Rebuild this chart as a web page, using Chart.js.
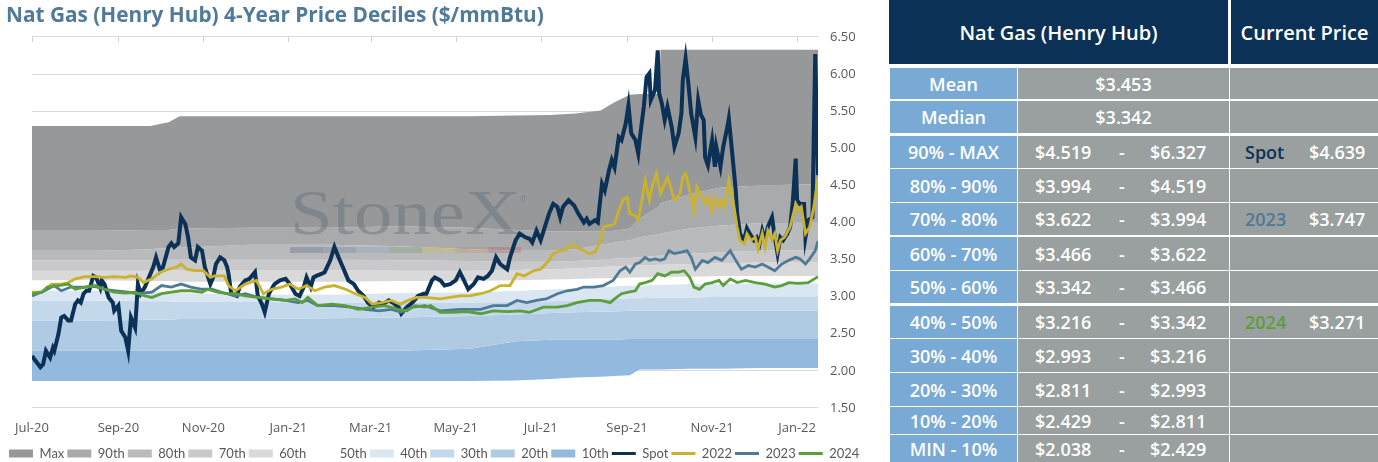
<!DOCTYPE html>
<html>
<head>
<meta charset="utf-8">
<script src="https://cdn.jsdelivr.net/npm/chart.js@4.4.1/dist/chart.umd.min.js"></script>
<style>
  body { margin: 0; background: #fff; width: 1378px; height: 462px; overflow: hidden; position: relative; }
  #wrap { position: absolute; left: 0; top: 0; width: 880px; height: 462px; }
  .c { position: absolute; display: flex; align-items: center; justify-content: center;
       color: #fff; font-family: "Open Sans", Lato, sans-serif; font-weight: 600; font-size: 18px; white-space: nowrap; }
  .c span { position: absolute; }
</style>
</head>
<body>
<div id="wrap"><canvas id="chart"></canvas></div>
<div id="tbl"></div>
<script>
// x axis: days since 1 Jul 2020
const xTickDays = [0, 62, 123, 184, 243, 304, 365, 427, 488, 549];
const xTickLabels = ['Jul-20', 'Sep-20', 'Nov-20', 'Jan-21', 'Mar-21', 'May-21', 'Jul-21', 'Sep-21', 'Nov-21', 'Jan-22'];

// rolling 4-year deciles
const bandDays = [0, 49, 85, 90, 98, 106, 156, 214, 264, 314, 347, 372, 390, 408, 418, 429, 436, 450, 451, 472, 494, 522, 564];
const pMax = [5.30, 5.30, 5.30, 5.32, 5.35, 5.43, 5.43, 5.43, 5.43, 5.43, 5.44, 5.45, 5.47, 5.51, 5.62, 5.72, 5.73, 5.73, 6.327, 6.327, 6.327, 6.327, 6.327];
const p90 = [3.89, 3.89, 3.90, 3.90, 3.90, 3.92, 3.93, 3.93, 3.95, 3.93, 3.90, 3.88, 3.88, 3.88, 3.89, 3.92, 4.05, 4.22, 4.26, 4.38, 4.47, 4.50, 4.52];
const p80 = [3.62, 3.62, 3.64, 3.65, 3.65, 3.66, 3.70, 3.70, 3.68, 3.64, 3.62, 3.62, 3.64, 3.70, 3.73, 3.76, 3.80, 3.84, 3.85, 3.92, 3.96, 3.99, 4.00];
const p70 = [3.49, 3.49, 3.49, 3.49, 3.50, 3.50, 3.50, 3.50, 3.49, 3.48, 3.47, 3.47, 3.48, 3.50, 3.51, 3.52, 3.53, 3.55, 3.55, 3.58, 3.60, 3.62, 3.63];
const p60 = [3.35, 3.35, 3.35, 3.35, 3.36, 3.36, 3.36, 3.36, 3.35, 3.35, 3.36, 3.37, 3.38, 3.40, 3.41, 3.42, 3.42, 3.43, 3.43, 3.44, 3.45, 3.46, 3.46];
const p50 = [3.22, 3.22, 3.21, 3.21, 3.21, 3.20, 3.20, 3.20, 3.21, 3.21, 3.22, 3.23, 3.24, 3.25, 3.25, 3.26, 3.26, 3.27, 3.27, 3.27, 3.28, 3.28, 3.28];
const p40 = [3.08, 3.08, 3.07, 3.06, 3.06, 3.05, 3.03, 3.03, 3.05, 3.06, 3.08, 3.10, 3.11, 3.13, 3.14, 3.15, 3.15, 3.16, 3.16, 3.17, 3.17, 3.18, 3.18];
const p30 = [2.95, 2.95, 2.94, 2.94, 2.94, 2.93, 2.93, 2.92, 2.92, 2.92, 2.93, 2.94, 2.95, 2.97, 2.97, 2.98, 2.98, 2.99, 2.99, 2.99, 3.00, 3.00, 3.00];
const p20 = [2.68, 2.68, 2.69, 2.69, 2.69, 2.70, 2.70, 2.71, 2.72, 2.74, 2.76, 2.78, 2.79, 2.80, 2.80, 2.81, 2.81, 2.81, 2.81, 2.81, 2.81, 2.81, 2.81];
const p10 = [2.27, 2.27, 2.27, 2.27, 2.27, 2.27, 2.27, 2.27, 2.27, 2.30, 2.40, 2.42, 2.42, 2.42, 2.42, 2.43, 2.43, 2.43, 2.43, 2.43, 2.43, 2.43, 2.43];
const pMin = [1.865, 1.865, 1.865, 1.865, 1.865, 1.865, 1.865, 1.865, 1.865, 1.865, 1.87, 1.89, 1.91, 1.92, 1.93, 1.94, 2.02, 2.02, 2.02, 2.03, 2.03, 2.04, 2.04];

// [day, price]
const spot = [[0,2.20],[6,2.05],[8,2.09],[10,2.27],[13,2.18],[15,2.31],[16,2.27],[19,2.50],[21,2.72],[23,2.74],[26,2.68],[28,2.68],[31,2.90],[33,2.95],[35,2.92],[37,3.04],[39,3.08],[41,3.08],[44,3.28],[46,3.26],[49,3.12],[50,3.22],[52,3.17],[55,2.99],[58,2.92],[59,2.81],[62,2.88],[64,2.54],[67,2.45],[69,2.27],[71,2.72],[74,2.58],[76,3.17],[78,3.04],[81,3.13],[83,3.22],[87,3.40],[89,3.53],[92,3.35],[94,3.40],[98,3.67],[100,3.72],[102,3.67],[105,3.72],[107,4.07],[110,3.98],[112,3.80],[114,3.53],[117,3.49],[119,3.67],[122,3.62],[124,3.40],[128,3.17],[130,3.26],[132,3.44],[135,3.53],[138,3.49],[140,3.40],[141,3.31],[143,3.04],[147,3.01],[149,3.13],[153,3.22],[156,3.24],[160,3.33],[162,3.01],[165,2.90],[167,2.79],[170,3.04],[174,3.17],[178,3.22],[182,3.24],[185,3.17],[189,3.04],[192,3.01],[195,3.13],[197,3.26],[200,3.13],[202,3.26],[204,3.28],[208,3.31],[210,3.33],[214,3.49],[217,3.67],[220,3.53],[223,3.40],[227,3.22],[231,3.17],[234,3.08],[238,3.01],[241,2.92],[245,2.86],[249,2.92],[252,2.90],[256,2.95],[259,2.92],[263,2.86],[265,2.77],[269,2.86],[273,2.92],[277,3.01],[281,3.04],[283,3.04],[287,3.22],[289,3.26],[293,3.22],[296,3.15],[300,3.17],[304,3.22],[307,3.33],[310,3.22],[313,3.10],[317,3.17],[320,3.26],[324,3.24],[327,3.28],[330,3.35],[333,3.53],[336,3.44],[341,3.37],[343,3.53],[347,3.76],[350,3.85],[354,3.80],[357,3.78],[359,3.73],[362,3.89],[365,3.76],[368,3.94],[371,4.12],[374,4.25],[377,4.21],[379,4.07],[381,4.21],[385,4.30],[389,4.23],[392,4.12],[396,4.00],[398,4.05],[400,3.98],[404,4.03],[406,4.00],[409,4.52],[411,4.43],[414,4.70],[416,4.84],[418,4.74],[421,5.15],[423,5.11],[426,5.33],[428,5.58],[430,5.20],[433,5.11],[435,4.93],[436,5.11],[439,5.56],[441,5.96],[443,6.01],[444,5.65],[446,5.74],[447,5.78],[449,6.32],[450,5.74],[452,5.60],[454,5.38],[456,5.56],[459,5.29],[461,5.02],[464,5.20],[466,5.47],[467,5.92],[469,6.21],[471,5.87],[473,5.47],[476,5.15],[478,5.65],[480,5.45],[482,5.38],[483,4.88],[485,4.77],[488,5.11],[490,4.75],[491,5.02],[494,4.75],[496,5.02],[499,5.29],[500,5.40],[502,5.02],[505,4.43],[506,4.12],[508,3.85],[511,3.76],[513,3.92],[515,3.85],[518,3.76],[520,3.80],[522,3.71],[524,3.89],[526,3.76],[528,3.94],[531,4.07],[533,3.80],[535,3.58],[537,3.80],[539,3.76],[542,3.85],[544,3.94],[546,4.30],[548,4.86],[549,4.30],[551,4.25],[554,4.25],[555,3.80],[557,4.03],[560,4.07],[562,6.27],[564,4.64]];

const cal2022 = [[0,3.06],[7,3.06],[14,3.17],[21,3.17],[26,3.19],[31,3.24],[38,3.27],[45,3.27],[52,3.26],[59,3.27],[67,3.26],[71,3.28],[76,3.26],[80,3.19],[86,3.24],[92,3.33],[98,3.37],[104,3.40],[107,3.44],[111,3.37],[117,3.35],[123,3.35],[128,3.26],[131,3.28],[138,3.28],[141,3.15],[146,3.08],[153,3.17],[161,3.22],[166,3.04],[172,3.10],[179,3.13],[185,3.17],[191,3.10],[197,3.15],[203,3.08],[210,3.13],[217,3.15],[225,3.10],[232,3.04],[239,2.99],[244,2.90],[251,2.92],[258,2.95],[264,2.90],[270,2.95],[276,2.99],[282,2.99],[293,2.97],[300,2.99],[307,3.01],[314,3.01],[322,3.04],[329,3.08],[336,3.15],[343,3.15],[348,3.31],[353,3.28],[360,3.35],[365,3.37],[371,3.49],[374,3.58],[379,3.62],[384,3.64],[387,3.71],[391,3.67],[396,3.62],[400,3.58],[404,3.60],[408,3.76],[410,3.94],[415,3.96],[418,3.98],[421,4.16],[424,4.30],[427,4.34],[429,4.12],[433,4.09],[435,4.03],[438,4.34],[440,4.57],[443,4.30],[445,4.48],[448,4.66],[451,4.39],[453,4.48],[456,4.61],[459,4.43],[461,4.30],[465,4.39],[467,4.61],[469,4.66],[472,4.43],[475,4.16],[477,4.48],[481,4.34],[483,4.25],[485,4.34],[488,4.16],[490,4.34],[493,4.21],[495,4.30],[497,4.21],[500,4.57],[503,4.30],[506,3.94],[508,3.76],[511,3.71],[513,3.85],[516,3.76],[519,3.80],[521,3.64],[524,3.85],[526,3.67],[528,3.89],[531,3.76],[533,3.85],[535,3.62],[537,3.76],[540,3.80],[544,3.94],[548,4.25],[550,4.16],[552,4.21],[555,3.85],[558,3.94],[561,4.21],[564,4.61]];

const cal2023 = [[0,3.01],[9,3.08],[16,3.15],[21,3.08],[28,3.13],[38,3.13],[45,3.14],[52,3.10],[59,3.08],[69,3.06],[76,3.04],[86,3.06],[93,3.15],[100,3.13],[107,3.17],[114,3.13],[122,3.10],[129,3.10],[136,3.06],[146,3.01],[153,3.04],[162,2.99],[172,2.97],[182,2.95],[191,2.92],[198,2.95],[205,2.88],[217,2.88],[229,2.86],[239,2.83],[249,2.81],[258,2.83],[265,2.79],[273,2.86],[282,2.88],[293,2.81],[307,2.83],[322,2.83],[331,2.88],[341,2.88],[348,2.95],[355,2.92],[362,2.95],[369,2.97],[377,3.04],[384,3.08],[391,3.10],[396,3.13],[403,3.13],[410,3.15],[417,3.22],[422,3.35],[426,3.40],[429,3.33],[433,3.44],[436,3.46],[440,3.53],[443,3.49],[447,3.51],[451,3.49],[454,3.51],[457,3.62],[461,3.58],[466,3.60],[470,3.62],[473,3.53],[476,3.37],[481,3.49],[485,3.46],[490,3.53],[495,3.49],[501,3.62],[505,3.49],[509,3.37],[514,3.42],[519,3.40],[524,3.44],[528,3.40],[533,3.35],[538,3.44],[543,3.49],[548,3.53],[551,3.51],[555,3.44],[558,3.51],[562,3.62],[564,3.75]];

const cal2024 = [[0,3.04],[7,3.06],[11,3.13],[19,3.15],[26,3.17],[31,3.10],[38,3.13],[45,3.15],[52,3.10],[59,3.06],[67,3.05],[74,3.06],[81,3.01],[86,2.99],[93,3.04],[100,3.06],[107,3.08],[114,3.08],[122,3.06],[126,3.10],[133,3.06],[140,3.04],[146,3.04],[153,3.01],[162,2.99],[172,2.97],[182,2.95],[189,2.97],[194,2.92],[198,2.99],[205,2.88],[215,2.90],[225,2.88],[234,2.83],[244,2.86],[253,2.88],[263,2.83],[269,2.81],[275,2.88],[282,2.86],[286,2.88],[293,2.79],[302,2.79],[312,2.80],[322,2.77],[331,2.81],[341,2.80],[350,2.81],[357,2.79],[367,2.86],[377,2.86],[384,2.88],[391,2.92],[400,2.95],[408,2.95],[415,2.92],[418,2.97],[423,3.04],[428,3.06],[433,3.08],[436,3.17],[440,3.19],[445,3.22],[449,3.31],[454,3.28],[459,3.33],[464,3.33],[468,3.35],[472,3.26],[475,3.13],[479,3.10],[483,3.17],[488,3.19],[493,3.22],[496,3.15],[501,3.24],[506,3.19],[512,3.22],[519,3.19],[526,3.17],[533,3.13],[538,3.15],[543,3.19],[550,3.18],[557,3.19],[564,3.27]];

// table
const tableLabels = ['Mean', 'Median', '90% - MAX', '80% - 90%', '70% - 80%', '60% - 70%', '50% - 60%', '40% - 50%', '30% - 40%', '20% - 30%', '10% - 20%', 'MIN - 10%'];
const tableLow = ['$3.453', '$3.342', '$4.519', '$3.994', '$3.622', '$3.466', '$3.342', '$3.216', '$2.993', '$2.811', '$2.429', '$2.038'];
const tableHigh = [null, null, '$6.327', '$4.519', '$3.994', '$3.622', '$3.466', '$3.342', '$3.216', '$2.993', '$2.811', '$2.429'];
const currentName = [null, null, 'Spot', null, '2023', null, null, '2024', null, null, null, null];
const currentValue = [null, null, '$4.639', null, '$3.747', null, null, '$3.271', null, null, null, null];

const pts = (days, vals) => days.map((d, i) => ({ x: d, y: vals[i] }));
const pairs = (arr) => arr.map(p => ({ x: p[0], y: p[1] }));

const band = (label, vals, color) => ({
  label: label, data: pts(bandDays, vals), isBand: true,
  backgroundColor: color, borderColor: 'transparent', borderWidth: 0,
  pointRadius: 0, fill: '+1', order: 5
});
const line = (label, arr, color, width, order) => ({
  label: label, data: pairs(arr), isBand: false,
  borderColor: color, backgroundColor: color, borderWidth: width,
  pointRadius: 0, fill: false, tension: 0, order: order
});

const datasets = [
  band('Max', pMax, '#97989a'),
  band('90th', p90, '#a9aaac'),
  band('80th', p80, '#b9babc'),
  band('70th', p70, '#c9c9cb'),
  band('60th', p60, '#d9d9d9'),
  band('50th', p50, '#ffffff'),
  band('40th', p40, '#dae6f2'),
  band('30th', p30, '#c3d8eb'),
  band('20th', p20, '#afcbe4'),
  band('10th', p10, '#93bade'),
  { label: 'Min', data: pts(bandDays, pMin), isBand: true, borderColor: 'transparent', backgroundColor: 'transparent', borderWidth: 0, pointRadius: 0, fill: false, order: 5 },
  line('Spot', spot, '#0c3157', 4, 4),
  line('2022', cal2022, '#c9b22e', 2.8, 3),
  line('2023', cal2023, '#4e7a96', 2.8, 2),
  line('2024', cal2024, '#5b9e3b', 2.8, 1)
];

// StoneX logo behind the price lines
const watermark = {
  id: 'watermark',
  beforeDatasetDraw(chart, args) {
    if (args.index !== 11) return;
    const ctx = chart.ctx;
    ctx.save();
    ctx.fillStyle = 'rgba(95,110,118,0.42)';
    ctx.font = '64px "Liberation Serif", "DejaVu Serif", serif';
    ctx.textBaseline = 'alphabetic';
    ctx.translate(290, 234);
    ctx.scale(1.2, 1);
    ctx.fillText('StoneX', 0, 0);
    ctx.restore();
    ctx.save();
    ctx.fillStyle = 'rgba(95,110,118,0.42)';
    ctx.font = '9px "DejaVu Sans", sans-serif';
    ctx.fillText('®', 519, 200);
    const strip = ['rgba(50,75,110,0.25)', 'rgba(70,95,130,0.22)', 'rgba(130,160,195,0.28)', 'rgba(90,140,80,0.25)', 'rgba(210,185,70,0.28)', 'rgba(190,140,80,0.25)', 'rgba(180,70,70,0.25)'];
    strip.forEach((c, i) => { ctx.fillStyle = c; ctx.fillRect(290 + i * 33, 247, 33, 6); });
    ctx.restore();
  }
};

// short x tick marks hanging from the top gridline
const topTicks = {
  id: 'topTicks',
  afterDraw(chart) {
    const { ctx, chartArea, scales } = chart;
    ctx.save();
    ctx.strokeStyle = '#d0d0d0';
    ctx.lineWidth = 1;
    scales.x.ticks.forEach(t => {
      const px = Math.round(scales.x.getPixelForValue(t.value)) + 0.5;
      ctx.beginPath();
      ctx.moveTo(px, chartArea.top);
      ctx.lineTo(px, chartArea.top + 5);
      ctx.stroke();
    });
    ctx.restore();
  }
};

Chart.defaults.font.family = 'Lato, "Open Sans", sans-serif';
Chart.defaults.color = '#595959';

new Chart(document.getElementById('chart'), {
  type: 'line',
  data: { datasets: datasets },
  options: {
    responsive: true,
    maintainAspectRatio: false,
    animation: false,
    layout: { padding: { left: 6, right: 0, top: 0, bottom: -8 } },
    scales: {
      x: {
        type: 'linear', min: 0, max: 564, position: 'bottom',
        afterBuildTicks: (axis) => { axis.ticks = xTickDays.map(v => ({ value: v })); },
        ticks: { autoSkip: false, maxRotation: 0, padding: 12, font: { family: '"Open Sans", Lato, sans-serif', size: 13 }, color: '#595959',
                 callback: (v, i) => xTickLabels[i] },
        grid: { display: false, drawTicks: false },
        border: { display: false },
        afterFit: (axis) => { axis.height = 36; }
      },
      yl: {
        position: 'left', display: true,
        ticks: { display: false }, grid: { display: false, drawTicks: false }, border: { display: false },
        afterFit: (axis) => { axis.width = 26; }
      },
      y: {
        position: 'right', min: 1.5, max: 6.5, z: 1,
        ticks: { stepSize: 0.5, padding: 12, font: { family: '"Open Sans", Lato, sans-serif', size: 13 }, color: '#595959', callback: v => v.toFixed(2) },
        grid: { color: 'rgba(0,0,0,0.15)', drawTicks: false },
        border: { display: false },
        afterFit: (axis) => { axis.width = 62; }
      }
    },
    plugins: {
      tooltip: { enabled: false },
      title: {
        display: true, align: 'start',
        text: 'Nat Gas (Henry Hub) 4-Year Price Deciles ($/mmBtu)',
        color: '#4f7a99', font: { family: '"Open Sans", Lato, sans-serif', size: 20.8, weight: 'bold' },
        padding: { top: 4, bottom: 8 }
      },
      legend: {
        position: 'bottom', align: 'start',
        labels: {
          usePointStyle: true, pointStyleWidth: 24, boxHeight: 8, padding: 3,
          font: { size: 13 }, color: '#595959',
          generateLabels: (chart) => chart.data.datasets.map((ds, i) => ({
            text: ds.label, datasetIndex: i, hidden: false,
            fillStyle: ds.isBand ? ds.backgroundColor : ds.borderColor,
            strokeStyle: ds.isBand ? ds.backgroundColor : ds.borderColor,
            lineWidth: ds.isBand ? 0 : 3,
            pointStyle: ds.isBand ? 'rect' : 'line',
            fontColor: '#595959'
          })).filter(item => item.text !== 'Min')
        }
      }
    }
  },
  plugins: [watermark, topTicks]
});

// right-hand table
const tbl = document.getElementById('tbl');
function cell(left, top, w, h, bg, html, size) {
  const d = document.createElement('div');
  d.className = 'c';
  d.style.left = left + 'px'; d.style.top = top + 'px';
  d.style.width = w + 'px'; d.style.height = h + 'px';
  d.style.background = bg;
  if (size) d.style.fontSize = size + 'px';
  d.innerHTML = html;
  tbl.appendChild(d);
  return d;
}
cell(889, 0, 339, 64, '#0b3157', 'Nat Gas (Henry Hub)', 20);
cell(1231, 0, 147, 64, '#0b3157', 'Current Price', 20);

const rowTop = [68, 101, 136, 169, 203, 237, 271, 306, 339, 373, 407, 435];
const rowH = [31, 32, 32, 33, 32, 33, 32, 32, 33, 33, 27, 27];
tableLabels.forEach((lab, i) => {
  cell(890, rowTop[i], 127, rowH[i], '#79aad5', lab);
  if (tableHigh[i]) {
    cell(1018, rowTop[i], 211, rowH[i], '#99a09f',
      '<span style="left:17px">' + tableLow[i] + '</span>' +
      '<span style="left:101px">-</span>' +
      '<span style="left:132px">' + tableHigh[i] + '</span>');
  } else {
    cell(1018, rowTop[i], 211, rowH[i], '#99a09f', tableLow[i]);
  }
  let cur = '';
  if (currentName[i]) {
    const nameColor = { 'Spot': '#0b3157', '2023': '#4e7a96', '2024': '#5b9e3b' }[currentName[i]];
    cur = '<span style="left:15px;color:' + nameColor + '">' + currentName[i] + '</span>' +
          '<span style="left:79px">' + currentValue[i] + '</span>';
  }
  cell(1230, rowTop[i], 148, rowH[i], '#99a09f', cur);
});
</script>
</body>
</html>
